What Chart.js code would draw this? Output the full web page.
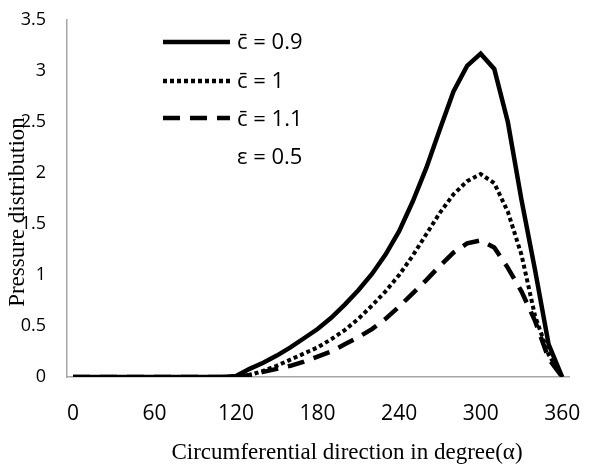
<!DOCTYPE html>
<html lang="en">

<head>
    <meta charset="UTF-8">
    <title>Pressure distribution</title>
    <script src="https://cdn.jsdelivr.net/npm/chart.js"></script>
    <style>
        html, body { margin: 0; padding: 0; background: #fff; }
    </style>
</head>

<body>
    <canvas id="myChart" width="599" height="468" style="width:599px;height:468px"></canvas>

    <script>
        // circumferential angle (deg), one point every 10 degrees
        const angles = [0, 10, 20, 30, 40, 50, 60, 70, 80, 90, 100, 110, 120, 130, 140, 150, 160, 170, 180,
            190, 200, 210, 220, 230, 240, 250, 260, 270, 280, 290, 300, 310, 320, 330, 340, 350, 360]

        const p09 = [0, 0, 0, 0, 0, 0, 0, 0, 0, 0, 0, 0, 0.01, 0.08, 0.14, 0.21, 0.29, 0.38, 0.47,
            0.58, 0.71, 0.85, 1.01, 1.2, 1.43, 1.72, 2.05, 2.43, 2.8, 3.05, 3.17, 3.02, 2.5, 1.74, 1.05, 0.32, 0]
        const p10 = [0, 0, 0, 0, 0, 0, 0, 0, 0, 0, 0, 0, 0, 0.02, 0.06, 0.11, 0.17, 0.23, 0.29,
            0.37, 0.46, 0.57, 0.7, 0.84, 1.0, 1.19, 1.4, 1.61, 1.79, 1.92, 1.99, 1.9, 1.62, 1.2, 0.6, 0.22, 0]
        const p11 = [0, 0, 0, 0, 0, 0, 0, 0, 0, 0, 0, 0, 0, 0.02, 0.05, 0.08, 0.11, 0.15, 0.2,
            0.25, 0.32, 0.39, 0.47, 0.57, 0.69, 0.82, 0.95, 1.09, 1.22, 1.31, 1.34, 1.27, 1.07, 0.84, 0.55, 0.18, 0]

        const xTicks = [0, 60, 120, 180, 240, 300, 360]
        const legendLabels = ['c\u0304 = 0.9', 'c\u0304 = 1', 'c\u0304 = 1.1']
        const noteLabel = '\u03b5 = 0.5'

        const solid = []
        const dotted = [4, 3]
        const dashed = [17, 10]

        function pts(vals) {
            return angles.map((a, i) => ({ x: a, y: vals[i] }))
        }

        // axis titles + legend drawn inside the plot, like the original
        const extras = {
            id: 'extras',
            afterDraw(chart) {
                const ctx = chart.ctx
                ctx.save()
                ctx.fillStyle = '#000'
                ctx.font = '23px "Liberation Serif"'
                ctx.textAlign = 'center'
                ctx.textBaseline = 'middle'
                ctx.fillText('Circumferential direction in degree(\u03b1)', 347, 453)
                ctx.save()
                ctx.translate(18, 212)
                ctx.rotate(-Math.PI / 2)
                ctx.fillText('Pressure distribution', 0, 0)
                ctx.restore()

                const rows = [42, 81, 118]
                const textRows = [43, 82, 120]
                const dashes = [solid, dotted, dashed]
                ctx.strokeStyle = '#000'
                ctx.lineCap = 'butt'
                rows.forEach((y, i) => {
                    ctx.lineWidth = 4.5
                    ctx.setLineDash(dashes[i])
                    ctx.beginPath()
                    ctx.moveTo(163, y)
                    ctx.lineTo(230, y)
                    ctx.stroke()
                })
                ctx.setLineDash([])
                ctx.font = '22px "Open Sans"'
                ctx.textAlign = 'left'
                textRows.forEach((y, i) => ctx.fillText(legendLabels[i], 237, y))
                ctx.fillText(noteLabel, 237, 158)
                ctx.restore()
            }
        }

        const data = {
            datasets: [{
                label: legendLabels[0],
                data: pts(p09),
                borderColor: '#000',
                borderWidth: 4.5,
                borderDash: solid
            }, {
                label: legendLabels[1],
                data: pts(p10),
                borderColor: '#000',
                borderWidth: 4,
                borderDash: dotted
            }, {
                label: legendLabels[2],
                data: pts(p11),
                borderColor: '#000',
                borderWidth: 4.5,
                borderDash: dashed
            }]
        }

        const config = {
            type: 'line',
            data: data,
            plugins: [extras],
            options: {
                responsive: false,
                animation: false,
                devicePixelRatio: 1,
                layout: { padding: { top: 20, right: 30, left: 0, bottom: 0 } },
                elements: {
                    point: { radius: 0 },
                    line: { tension: 0, borderCapStyle: 'butt', fill: false }
                },
                plugins: { legend: { display: false }, tooltip: { enabled: false } },
                scales: {
                    x: {
                        type: 'linear',
                        min: -4.4,
                        max: 365,
                        afterBuildTicks: s => { s.ticks = xTicks.map(v => ({ value: v })) },
                        afterFit: s => { s.height = 91; s.paddingLeft = 0; s.paddingRight = 0 },
                        grid: { display: false, drawTicks: false },
                        border: { display: true, color: '#a6a6a6', width: 1.5 },
                        ticks: { color: '#000', font: { family: 'Open Sans', size: 21 }, padding: 24, maxRotation: 0 }
                    },
                    y: {
                        min: 0,
                        max: 3.5,
                        afterFit: s => { s.width = 67; s.paddingTop = 0; s.paddingBottom = 0 },
                        grid: { display: false, drawTicks: false },
                        border: { display: true, color: '#a6a6a6', width: 1.5 },
                        ticks: {
                            stepSize: 0.5, color: '#000', font: { family: 'Open Sans', size: 18 }, padding: 21,
                            callback: v => String(v)
                        }
                    }
                }
            }
        }

        const myChart = new Chart(document.getElementById('myChart'), config)
    </script>
</body>

</html>
